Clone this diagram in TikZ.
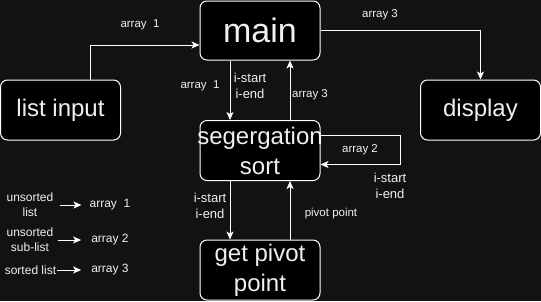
\documentclass[tikz,border=0pt]{standalone}
\usepackage{fontspec}
\setmainfont{Liberation Sans}
\usetikzlibrary{arrows.meta}
\definecolor{canvas}{RGB}{18,18,18}
\definecolor{ink}{RGB}{240,240,240}
\tikzset{
	block/.style={
		% The shape:
		shape=rectangle,rounded corners=7pt,
		% The size:
		minimum width=120pt,minimum height=60pt,inner sep=0pt,
		% The border and the filling:
		draw=white,line width=1pt,fill=black,
		% The text:
		text=ink,align=center,
		font=\fontsize{24}{30}\selectfont}}
\tikzset{
	tag/.style={text=ink,inner sep=0pt,font=\fontsize{11.5}{14}\selectfont,align=center},
	idx/.style={tag,font=\fontsize{13}{16}\selectfont,align=center},
	key/.style={tag,font=\fontsize{12}{15}\selectfont,align=center},
	flow/.style={->,draw=white,line width=1pt}}

\begin{document}
\begin{tikzpicture}[x=1pt,y=-1pt,>={Stealth[length=8pt,width=7pt,inset=2pt]}]
	% Backdrop, it also fixes the size
	\fill[canvas] (0,0) rectangle (541,301);
	% Blocks
	\node[block,minimum height=59pt,font=\fontsize{34}{40}\selectfont] (main) at (260,30.5) {main};
	\node[block] (listin) at (60.5,110) {list input};
	\node[block] (display) at (480.5,110) {display};
	\node[block,inner xsep=-3pt] (sort) at (260,150.5) {segergation\\sort};
	\node[block] (pivot) at (260,270) {get pivot\\point};
	% Line out of listin
	\draw[flow] ([xshift=30pt]listin.north) |- ([yshift=-14.5pt]main.west);
	\node[tag] (a1) at (140,25) {array~~1};
	% Lines out of main
	\draw[flow] (main.east) -| (display.north);
	\node[tag] (a3) at (380,15) {array 3};
	\draw[flow] ([xshift=-30pt]main.south) -- ([xshift=-30pt]sort.north);
	\node[tag] (a1b) at (200,86) {array~~1};
	\node[idx] (ie1) at (250,86) {i-start\\i-end};
	% Lines out of sort
	\draw[flow] ([xshift=30pt]sort.north) -- ([xshift=30pt]main.south);
	\node[tag] (a3b) at (310,95) {array 3};
	\draw[flow] ([yshift=15pt]sort.east) -- ++(80,0) |- ([yshift=-14pt]sort.east);
	\node[tag] (a2) at (360,150) {array 2};
	\node[idx] (ie2) at (390,186) {i-start\\i-end};
	\draw[flow] ([xshift=-30pt]sort.south) -- ([xshift=-30pt]pivot.north);
	\node[idx] (ie3) at (210,206) {i-start\\i-end};
	% Line out of pivot
	\draw[flow] ([xshift=30pt]pivot.north) -- ([xshift=30pt]sort.south);
	\node[tag] (pp) at (331,214) {pivot point};
	% Legend
	\node[key] (k1) at (30,205) {unsorted\\list};
	\node[key] (v1) at (110,205) {array~~1};
	\node[key] (k2) at (30,240) {unsorted\\sub-list};
	\node[key] (v2) at (110,240) {array 2};
	\node[key] (k3) at (30.5,270) {sorted list};
	\node[key] (v3) at (110,270) {array 3};
	\draw[flow] ([xshift=6pt]k1.east) -- ([xshift=-8pt]v1.west);
	\draw[flow] ([xshift=4pt]k2.east) -- ([xshift=-10pt]v2.west);
	\draw[flow] ([xshift=1pt]k3.east) -- ([xshift=-10pt]v3.west);
\end{tikzpicture}
\end{document}
